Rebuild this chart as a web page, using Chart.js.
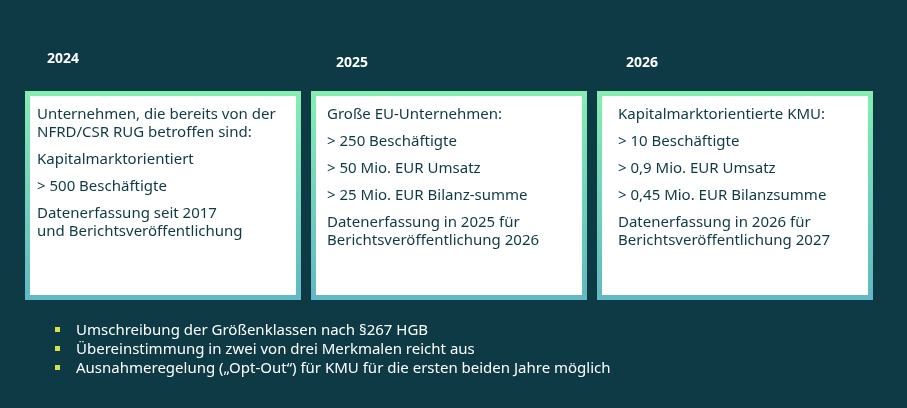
<!DOCTYPE html>
<html><head><meta charset="utf-8">
<script src="https://cdn.jsdelivr.net/npm/chart.js@4"></script>
<style>
html,body{margin:0;padding:0;background:#0d3a44;width:907px;height:408px;overflow:hidden;font-family:"Noto Sans","Open Sans",sans-serif}
#c{position:absolute;left:0;top:0}
.t{position:absolute;color:#0d3a44;font-size:15px;line-height:18px}
.y{position:absolute;color:#fff;font-weight:bold;font-size:14px}
.t p{margin:0 0 9px 0}
ul{position:absolute;left:55px;top:320px;margin:0;padding:0;list-style:none;color:#fff;font-size:15px;line-height:19px}
ul li{position:relative;padding-left:21px}
ul li:before{content:"";position:absolute;left:0;top:7px;width:5px;height:5px;background:#d8e04a}
</style></head><body>
<canvas id="c" width="907" height="408"></canvas>
<div class="y" style="left:47px;top:48px">2024</div>
<div class="y" style="left:336px;top:52px">2025</div>
<div class="y" style="left:626px;top:52px">2026</div>
<div class="t" style="left:37px;top:104px"><p>Unternehmen, die bereits von der<br>NFRD/CSR RUG betroffen sind:</p><p>Kapitalmarktorientiert</p><p>&gt; 500 Beschäftigte</p><p>Datenerfassung seit 2017<br>und Berichtsveröffentlichung</p></div>
<div class="t" style="left:327px;top:104px"><p>Große EU-Unternehmen:</p><p>&gt; 250 Beschäftigte</p><p>&gt; 50 Mio. EUR Umsatz</p><p>&gt; 25 Mio. EUR Bilanz-summe</p><p>Datenerfassung in 2025 für<br>Berichtsveröffentlichung 2026</p></div>
<div class="t" style="left:618px;top:104px"><p>Kapitalmarktorientierte KMU:</p><p>&gt; 10 Beschäftigte</p><p>&gt; 0,9 Mio. EUR Umsatz</p><p>&gt; 0,45 Mio. EUR Bilanzsumme</p><p>Datenerfassung in 2026 für<br>Berichtsveröffentlichung 2027</p></div>
<ul><li>Umschreibung der Größenklassen nach §267 HGB</li><li>Übereinstimmung in zwei von drei Merkmalen reicht aus</li><li>Ausnahmeregelung („Opt-Out“) für KMU für die ersten beiden Jahre möglich</li></ul>
<script>
const years = ["2024","2025","2026"];
const boxRanges = [[0,1],[0,1],[0,1]];
new Chart(document.getElementById('c'),{
 type:'bar',
 data:{labels:years,datasets:[{data:boxRanges,backgroundColor:'#ffffff',borderWidth:5,borderSkipped:false,
  borderColor:(ctx)=>{const a=ctx.chart.chartArea;if(!a)return '#7fe3a8';const g=ctx.chart.ctx.createLinearGradient(0,a.top,0,a.bottom);g.addColorStop(0,'#86eeb0');g.addColorStop(1,'#5fb8c4');return g;},
  barPercentage:0.965,categoryPercentage:1}]},
 options:{responsive:false,animation:false,events:[],layout:{padding:{left:20,right:29,top:91,bottom:108}},
  plugins:{legend:{display:false},tooltip:{enabled:false}},
  scales:{x:{display:false},y:{display:false,min:0,max:1}}}
});
</script>
</body></html>
